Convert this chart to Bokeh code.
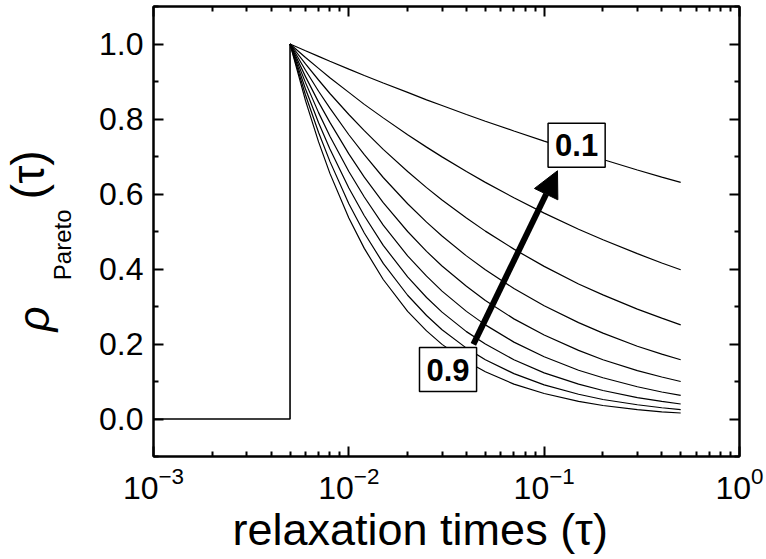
import math
from bokeh.plotting import figure
from bokeh.layouts import row
from bokeh.models import (Range1d, FixedTicker, LinearAxis, LogAxis, Label,
                          Arrow, NormalHead, Title, NumeralTickFormatter)
from bokeh.embed import file_html
from bokeh.resources import INLINE

# relaxation times sampled along each curve
tau = [0.005, 0.006, 0.007, 0.008, 0.01, 0.012, 0.015, 0.02, 0.025, 0.03,
       0.04, 0.05, 0.07, 0.1, 0.15, 0.2, 0.3, 0.4, 0.5]

# Pareto exponents and the corresponding distributions
alphas = [0.1, 0.2, 0.3, 0.4, 0.5, 0.6, 0.7, 0.8, 0.9]
rho_01 = [1.000, 0.982, 0.967, 0.954, 0.933, 0.916, 0.896, 0.871, 0.851, 0.836, 0.812, 0.794, 0.768, 0.741, 0.712, 0.692, 0.664, 0.645, 0.631]
rho_02 = [1.000, 0.964, 0.935, 0.910, 0.871, 0.839, 0.803, 0.758, 0.725, 0.699, 0.660, 0.631, 0.590, 0.549, 0.506, 0.478, 0.441, 0.416, 0.398]
rho_03 = [1.000, 0.947, 0.904, 0.868, 0.812, 0.769, 0.719, 0.660, 0.617, 0.584, 0.536, 0.501, 0.453, 0.407, 0.360, 0.331, 0.293, 0.269, 0.251]
rho_04 = [1.000, 0.930, 0.874, 0.829, 0.758, 0.705, 0.644, 0.574, 0.525, 0.488, 0.435, 0.398, 0.348, 0.302, 0.257, 0.229, 0.194, 0.173, 0.158]
rho_05 = [1.000, 0.913, 0.845, 0.791, 0.707, 0.645, 0.577, 0.500, 0.447, 0.408, 0.354, 0.316, 0.267, 0.224, 0.183, 0.158, 0.129, 0.112, 0.100]
rho_06 = [1.000, 0.897, 0.817, 0.754, 0.660, 0.592, 0.517, 0.435, 0.381, 0.341, 0.287, 0.251, 0.205, 0.166, 0.130, 0.110, 0.086, 0.072, 0.063]
rho_07 = [1.000, 0.880, 0.790, 0.720, 0.616, 0.542, 0.463, 0.379, 0.324, 0.285, 0.233, 0.200, 0.158, 0.123, 0.093, 0.076, 0.057, 0.047, 0.040]
rho_08 = [1.000, 0.864, 0.764, 0.687, 0.574, 0.496, 0.415, 0.330, 0.276, 0.238, 0.189, 0.158, 0.121, 0.091, 0.066, 0.052, 0.038, 0.030, 0.025]
rho_09 = [1.000, 0.849, 0.739, 0.655, 0.536, 0.455, 0.372, 0.287, 0.235, 0.199, 0.154, 0.126, 0.093, 0.068, 0.047, 0.036, 0.025, 0.019, 0.016]
curves = [rho_01, rho_02, rho_03, rho_04, rho_05, rho_06, rho_07, rho_08, rho_09]

# zero below the lower cutoff, then the jump to 1
step_tau = [0.001, 0.005, 0.005]
step_rho = [0.0, 0.0, 1.0]

# axis ticks
x_major = [1e-3, 1e-2, 1e-1, 1e0]
x_minor = [m * 10.0 ** e for e in (-3, -2, -1) for m in range(2, 10)]
y_major = [0.0, 0.2, 0.4, 0.6, 0.8, 1.0]
y_minor = [-0.1, 0.1, 0.3, 0.5, 0.7, 0.9, 1.1]

FONT = "Liberation Sans"
H = 559
TITLE_W = 90          # strip holding the rotated y title

# ---- main plot -------------------------------------------------------------
p = figure(width=766 - TITLE_W, height=H, x_axis_type="log",
           x_range=Range1d(1e-3, 1.0), y_range=Range1d(-0.1, 1.1),
           min_border_left=153 - TITLE_W, min_border_right=27,
           min_border_top=6, min_border_bottom=103,
           output_backend="svg", toolbar_location=None)
p.grid.visible = False
p.outline_line_color = "black"
p.outline_line_width = 2
p.background_fill_color = "white"
p.border_fill_color = "white"

# extra axes on top and right carry inward ticks only
top_axis = LogAxis()
right_axis = LinearAxis()
p.add_layout(top_axis, "above")
p.add_layout(right_axis, "right")

for ax in p.xaxis:
    ax.ticker = FixedTicker(ticks=x_major, minor_ticks=x_minor)
for ax in p.yaxis:
    ax.ticker = FixedTicker(ticks=y_major, minor_ticks=y_minor)
    ax.formatter = NumeralTickFormatter(format="0.0")

for ax in p.axis:
    ax.axis_line_color = "black"
    ax.axis_line_width = 2
    ax.major_tick_line_width = 2
    ax.minor_tick_line_width = 2
    ax.major_tick_in = 10
    ax.major_tick_out = 0
    ax.minor_tick_in = 5
    ax.minor_tick_out = 0
    ax.major_label_text_font = FONT
    ax.major_label_text_font_size = "32px"
    ax.major_label_text_color = "black"
    ax.major_label_standoff = 10

for ax in (top_axis, right_axis):
    ax.major_label_text_font_size = "1px"
    ax.major_label_text_alpha = 0
    ax.major_label_standoff = 0

# distributions
for ys in curves:
    p.line(tau, ys, line_color="black", line_width=1.2)
p.line(step_tau, step_rho, line_color="black", line_width=1.6)

# arrow from the steepest curve towards the flattest one
p.add_layout(Arrow(end=NormalHead(size=26, fill_color="black", line_color="black"),
                   x_start=0.0434, y_start=0.199, x_end=0.117, y_end=0.662,
                   line_width=6, line_color="black"))

for a, (lx, ly) in ((alphas[0], (0.1466, 0.730)), (alphas[-1], (0.0322, 0.132))):
    p.add_layout(Label(x=lx, y=ly, text=f"{a:.1f}", text_font=FONT,
                       text_font_style="bold", text_font_size="31px",
                       text_color="black",
                       text_align="center", text_baseline="middle",
                       background_fill_color="white", border_line_color="black",
                       border_line_width=1.5, padding=(7, 11)))

# x title
p.add_layout(Title(text="relaxation times (τ)", align="left", offset=79,
                   text_font=FONT, text_font_size="45px",
                   text_font_style="normal", text_color="black",
                   standoff=0), "below")

# ---- strip with the y title --------------------------------------------------
t = figure(width=TITLE_W, height=H, x_range=Range1d(0, TITLE_W),
           y_range=Range1d(0, H), min_border=0,
           x_axis_location=None, y_axis_location=None,
           output_backend="svg", toolbar_location=None)
t.grid.visible = False
t.outline_line_color = None
t.background_fill_color = "white"
t.border_fill_color = "white"

# pieces of the rotated title, placed by their centres
for txt, cx, cy, size, style in (("ρ", 33, H - 388, "44px", "italic"),
                                  ("Pareto", 62, H - 296, "24px", "normal"),
                                  ("(τ)", 27, H - 209, "46px", "normal")):
    t.add_layout(Label(x=cx, y=cy, text=txt, text_font=FONT,
                       text_font_style=style, text_font_size=size,
                       text_color="black", angle=math.pi / 2,
                       text_align="center", text_baseline="middle"))

layout = row(t, p, spacing=0)
open("out.html", "w").write(file_html(layout, INLINE))
